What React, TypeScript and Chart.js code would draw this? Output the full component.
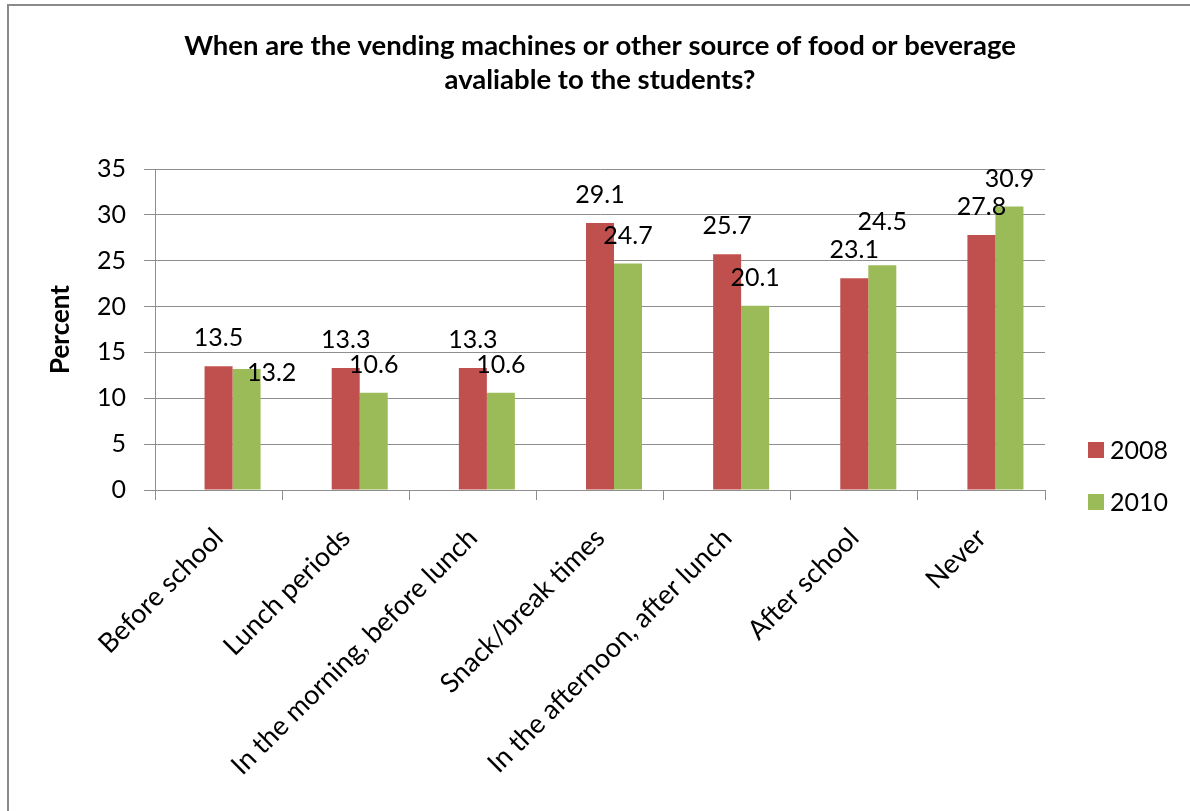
import React, { useEffect, useRef } from 'react';
import { Chart, registerables } from 'chart.js';

Chart.register(...registerables);

const TITLE_LINES = [
  'When are the vending machines or other source of food or beverage',
  'avaliable to the students?',
];
const CATEGORIES = [
  'Before school',
  'Lunch periods',
  'In the morning, before lunch',
  'Snack/break times',
  'In the afternoon, after lunch',
  'After school',
  'Never',
];
const SERIES_NAMES = ['2008', '2010'];
const SERIES_2008 = [13.5, 13.3, 13.3, 29.1, 25.7, 23.1, 27.8];
const SERIES_2010 = [13.2, 10.6, 10.6, 24.7, 20.1, 24.5, 30.9];
const Y_MIN = 0;
const Y_MAX = 35;
const Y_STEP = 5;
const Y_TITLE = 'Percent';

const COLORS = ['#C0504D', '#9BBB59'];
const GRID = '#8e8e8e';
const FONT = 'Lato, "Open Sans", sans-serif';

// manual label nudges (datasetIndex-categoryIndex): [dx, dy]
const LABEL_NUDGE: Record<string, [number, number]> = {
  '2-0': [25, 32],
  '2-5': [0, -15],
};

const framePlugin = {
  id: 'frame',
  beforeDraw(chart: any) {
    const ctx = chart.ctx;
    ctx.save();
    ctx.fillStyle = '#ffffff';
    ctx.fillRect(0, 0, chart.width, chart.height);
    ctx.strokeStyle = '#8a8a8a';
    ctx.lineWidth = 2;
    ctx.beginPath();
    ctx.moveTo(8, chart.height + 5);
    ctx.lineTo(8, 5);
    ctx.lineTo(chart.width + 5, 5);
    ctx.stroke();
    ctx.restore();
  },
};

const titlePlugin = {
  id: 'titleLines',
  afterDraw(chart: any) {
    const ctx = chart.ctx;
    ctx.save();
    ctx.font = `bold 27.5px ${FONT}`;
    ctx.fillStyle = '#000';
    ctx.textAlign = 'center';
    ctx.textBaseline = 'alphabetic';
    TITLE_LINES.forEach((line, i) => {
      ctx.fillText(line, 600, 55 + i * 34);
    });
    ctx.restore();
  },
};

const valueLabelPlugin = {
  id: 'valueLabels',
  afterDatasetsDraw(chart: any) {
    const ctx = chart.ctx;
    ctx.save();
    ctx.font = `25px ${FONT}`;
    ctx.fillStyle = '#000';
    ctx.textAlign = 'center';
    ctx.textBaseline = 'middle';
    chart.data.datasets.forEach((ds: any, di: number) => {
      if (!ds.label) return;
      const meta = chart.getDatasetMeta(di);
      meta.data.forEach((bar: any, i: number) => {
        const v = ds.data[i];
        if (v == null) return;
        const [dx, dy] = LABEL_NUDGE[`${di}-${i}`] || [0, 0];
        ctx.fillText(v.toFixed(1), bar.x + dx, bar.y - 28 + dy);
      });
    });
    ctx.restore();
  },
};

const legendPlugin = {
  id: 'sideLegend',
  afterDraw(chart: any) {
    const ctx = chart.ctx;
    const x0 = chart.chartArea.right + 43;
    ctx.save();
    ctx.font = `25px ${FONT}`;
    ctx.textAlign = 'left';
    ctx.textBaseline = 'middle';
    let k = 0;
    chart.data.datasets.forEach((ds: any) => {
      if (!ds.label) return;
      const y = 450 + k * 52;
      ctx.fillStyle = ds.backgroundColor;
      ctx.fillRect(x0, y - 8, 16, 16);
      ctx.fillStyle = '#000';
      ctx.fillText(ds.label, x0 + 22, y + 1);
      k++;
    });
    ctx.restore();
  },
};

export default function App() {
  const ref = useRef<HTMLCanvasElement>(null);
  useEffect(() => {
    const canvas = ref.current;
    if (!canvas) return;
    const chart = new Chart(canvas, {
      type: 'bar',
      data: {
        labels: CATEGORIES,
        datasets: [
          { label: '', data: CATEGORIES.map(() => null), backgroundColor: 'rgba(0,0,0,0)' },
          { label: SERIES_NAMES[0], data: SERIES_2008, backgroundColor: COLORS[0] },
          { label: SERIES_NAMES[1], data: SERIES_2010, backgroundColor: COLORS[1] },
        ],
      },
      options: {
        animation: false,
        responsive: false,
        layout: { padding: { left: 40, right: 145, top: 169, bottom: 0 } },
        datasets: { bar: { categoryPercentage: 0.661, barPercentage: 1 } },
        plugins: {
          legend: { display: false },
          title: { display: false },
          tooltip: { enabled: false },
        },
        scales: {
          x: {
            grid: {
              display: true,
              drawOnChartArea: false,
              drawTicks: true,
              tickLength: 10,
              color: GRID,
              offset: true,
            },
            border: { display: true, color: GRID },
            ticks: {
              autoSkip: false,
              maxRotation: 45,
              minRotation: 45,
              padding: 22,
              color: '#000',
              font: { family: FONT, size: 27 },
            },
            afterFit: (s: any) => {
              s.height = 321;
            },
          },
          y: {
            min: Y_MIN,
            max: Y_MAX,
            grid: { color: GRID, tickLength: 11, drawTicks: true },
            border: { display: true, color: GRID },
            ticks: {
              stepSize: Y_STEP,
              padding: 18,
              color: '#000',
              font: { family: FONT, size: 25 },
            },
            title: {
              display: true,
              text: Y_TITLE,
              color: '#000',
              font: { family: FONT, size: 26, weight: 'bold' },
              padding: { top: 5, bottom: 0 },
            },
            afterFit: (s: any) => {
              s.width = 115;
            },
          },
        },
      },
      plugins: [framePlugin, titlePlugin, valueLabelPlugin, legendPlugin],
    } as any);
    return () => chart.destroy();
  }, []);
  return (
    <div style={{ position: 'fixed', left: 0, top: 0, width: 1190, height: 811 }}>
      <canvas ref={ref} width={1190} height={811} style={{ display: 'block' }} />
    </div>
  );
}
